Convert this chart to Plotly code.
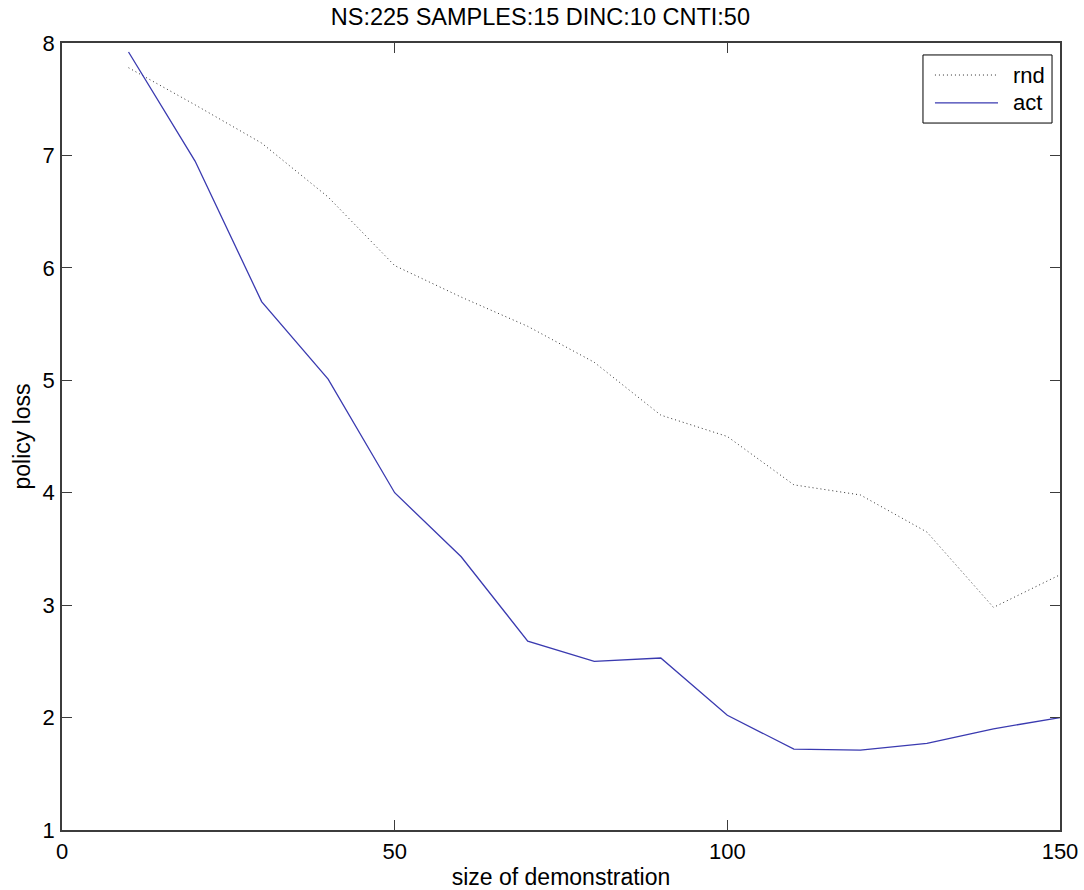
import plotly.graph_objects as go

# Demonstration sizes and policy loss for the two sampling strategies
demo_size = [10, 20, 30, 40, 50, 60, 70, 80, 90, 100, 110, 120, 130, 140, 150]
rnd_loss = [7.78, 7.45, 7.11, 6.63, 6.02, 5.74, 5.48, 5.16, 4.69, 4.50, 4.07, 3.98, 3.65, 2.98, 3.27]
act_loss = [7.92, 6.95, 5.70, 5.01, 4.00, 3.43, 2.68, 2.50, 2.53, 2.02, 1.72, 1.71, 1.77, 1.90, 2.00]

x_ticks = [0, 50, 100, 150]
y_ticks = [1, 2, 3, 4, 5, 6, 7, 8]

title_text = "NS:225 SAMPLES:15 DINC:10 CNTI:50"
FONT = "Liberation Sans, Arial, sans-serif"
AXIS_COLOR = "#3c3c3c"

rnd_line = dict(color="#303030", width=1, dash="1px,3px")
act_line = dict(color="#3a3ab0", width=1.3)

fig = go.Figure()
fig.add_trace(go.Scatter(x=demo_size, y=rnd_loss, name="rnd", mode="lines",
                         line=rnd_line, showlegend=False))
fig.add_trace(go.Scatter(x=demo_size, y=act_loss, name="act", mode="lines",
                         line=act_line, showlegend=False))

axis_common = dict(
    showgrid=False, zeroline=False, showline=True, mirror="ticks",
    linecolor=AXIS_COLOR, linewidth=1.5, automargin=False,
    ticks="inside", ticklen=10, tickwidth=1.2, tickcolor=AXIS_COLOR,
    tickfont=dict(family=FONT, size=22, color="#000000"),
)

# Boxed legend in the upper-right corner with long line samples
legend_entries = [("rnd", rnd_line), ("act", act_line)]
box_x0, box_x1, box_y0, box_y1 = 0.8627, 0.992, 0.8983, 0.9848
sample_x0, sample_x1, label_x = 0.8747, 0.9379, 0.9509
row_y = [0.9593, 0.9238]

shapes = [dict(type="rect", xref="paper", yref="paper",
               x0=box_x0, x1=box_x1, y0=box_y0, y1=box_y1,
               line=dict(color="#000000", width=1), fillcolor="white", layer="above")]
annotations = []
for (name, style), yy in zip(legend_entries, row_y):
    shapes.append(dict(type="line", xref="paper", yref="paper",
                       x0=sample_x0, x1=sample_x1, y0=yy, y1=yy,
                       line=style, layer="above"))
    annotations.append(dict(text=name, xref="paper", yref="paper", x=label_x, y=yy,
                            xanchor="left", yanchor="middle", showarrow=False,
                            font=dict(family=FONT, size=22, color="#000000")))

fig.update_layout(
    width=1084, height=890,
    margin=dict(l=62, r=24, t=43, b=60),
    paper_bgcolor="white", plot_bgcolor="white",
    font=dict(family=FONT, size=22, color="#000000"),
    title=dict(text=title_text, x=0.4985, xanchor="center", y=0.981, yanchor="middle",
               font=dict(family=FONT, size=23.5, color="#000000")),
    xaxis=dict(range=[0, 150], tickvals=x_ticks, ticklabelstandoff=1,
               title=dict(text="size of demonstration", standoff=15,
                          font=dict(family=FONT, size=23)),
               **axis_common),
    yaxis=dict(range=[1, 8], tickvals=y_ticks, ticklabelstandoff=1,
               title=dict(text="policy loss", standoff=6,
                          font=dict(family=FONT, size=23)),
               **axis_common),
    shapes=shapes,
    annotations=annotations,
    showlegend=False,
)

fig.write_html("out.html")
